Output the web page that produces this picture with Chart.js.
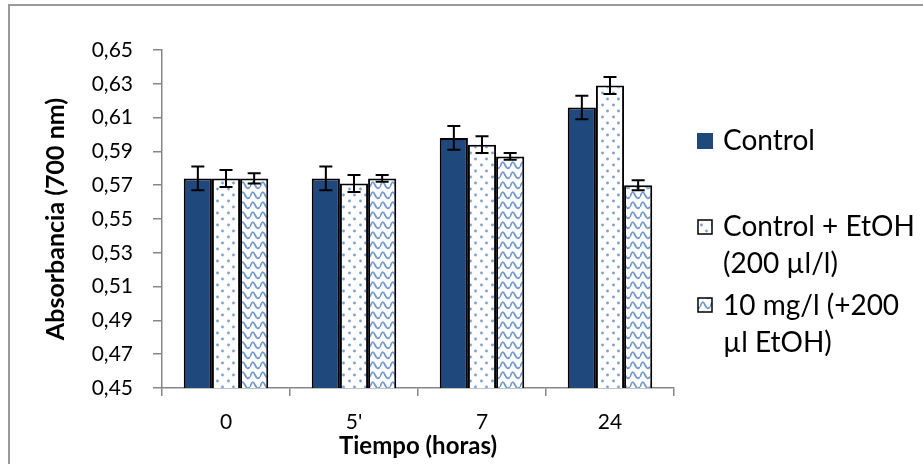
<!DOCTYPE html>
<html>
<head>
<meta charset="utf-8">
<script src="https://cdn.jsdelivr.net/npm/chart.js@4/dist/chart.umd.min.js"></script>
<style>
  html, body { margin: 0; padding: 0; background: #fff; }
  #box { width: 923px; height: 464px; }
</style>
</head>
<body>
<div id="box"><canvas id="graph" width="923" height="464"></canvas></div>
<script>
// données
const categories = ["0", "5'", "7", "24"];
const serieNoms = [["Control"], ["Control + EtOH", "(200 µl/l)"], ["10 mg/l (+200", "µl EtOH)"]];
const control = [0.574, 0.574, 0.598, 0.616];
const controlEtOH = [0.574, 0.571, 0.594, 0.629];
const dosis10 = [0.574, 0.574, 0.587, 0.570];
const errControl = [0.007, 0.007, 0.007, 0.007];
const errControlEtOH = [0.005, 0.005, 0.005, 0.005];
const errDosis10 = [0.003, 0.002, 0.002, 0.003];
const yTicks = [0.45, 0.47, 0.49, 0.51, 0.53, 0.55, 0.57, 0.59, 0.61, 0.63, 0.65];

const erreurs = [errControl, errControlEtOH, errDosis10];
const police = "Lato";

function motifPoints() {
    const c = document.createElement("canvas");
    c.width = 11; c.height = 12;
    const x = c.getContext("2d");
    x.fillStyle = "#fff";
    x.fillRect(0, 0, 11, 12);
    x.fillStyle = "#7a9fd6";
    x.beginPath(); x.arc(2.5, 3, 1.4, 0, Math.PI * 2); x.fill();
    x.beginPath(); x.arc(8.5, 9, 1.4, 0, Math.PI * 2); x.fill();
    return x.createPattern(c, "repeat");
}

function motifVagues() {
    const c = document.createElement("canvas");
    c.width = 10; c.height = 10;
    const x = c.getContext("2d");
    x.fillStyle = "#fff";
    x.fillRect(0, 0, 10, 10);
    x.strokeStyle = "#7099d4";
    x.lineWidth = 1.8;
    for (const dy of [-10, 0, 10]) {
        x.beginPath();
        x.moveTo(0, 7 + dy);
        x.bezierCurveTo(2, 1 + dy, 3, 1 + dy, 5, 5 + dy);
        x.bezierCurveTo(7, 9 + dy, 8, 9 + dy, 10, 7 + dy);
        x.stroke();
    }
    return x.createPattern(c, "repeat");
}

const points = motifPoints();
const vagues = motifVagues();
const remplissages = ["#1f497d", points, vagues];

// cadre gris et barres d'erreur
const cadre = {
    id: "cadre",
    beforeDraw(chart) {
        const ctx = chart.ctx;
        ctx.save();
        ctx.strokeStyle = "#9a9a9a";
        ctx.lineWidth = 2;
        ctx.beginPath();
        ctx.moveTo(9, 470);
        ctx.lineTo(9, 5);
        ctx.lineTo(930, 5);
        ctx.stroke();
        ctx.restore();
    }
};

const barresErreur = {
    id: "barresErreur",
    afterDatasetsDraw(chart) {
        const ctx = chart.ctx;
        const y = chart.scales.y;
        ctx.save();
        ctx.strokeStyle = "#000";
        ctx.lineWidth = 2;
        chart.data.datasets.forEach((ds, i) => {
            const meta = chart.getDatasetMeta(i);
            meta.data.forEach((bar, j) => {
                const v = ds.data[j];
                const e = erreurs[i][j];
                const haut = y.getPixelForValue(v + e);
                const bas = y.getPixelForValue(v - e);
                ctx.beginPath();
                ctx.moveTo(bar.x, haut); ctx.lineTo(bar.x, bas);
                ctx.moveTo(bar.x - 6.5, haut); ctx.lineTo(bar.x + 6.5, haut);
                ctx.moveTo(bar.x - 6.5, bas); ctx.lineTo(bar.x + 6.5, bas);
                ctx.stroke();
            });
        });
        ctx.restore();
    }
};

// légende dessinée à droite
const legende = {
    id: "legende",
    afterDraw(chart) {
        const ctx = chart.ctx;
        const lignesY = [[141], [227, 264], [306, 343]];
        const carresY = [133, 220, 298];
        ctx.save();
        ctx.font = "28px " + police;
        ctx.textBaseline = "middle";
        serieNoms.forEach((nom, i) => {
            const cy = carresY[i];
            if (i === 0) {
                ctx.fillStyle = remplissages[0];
                ctx.fillRect(697, cy, 16, 16);
            } else {
                ctx.fillStyle = remplissages[i];
                ctx.fillRect(698, cy, 14, 14);
                ctx.strokeStyle = "#000";
                ctx.lineWidth = 1.5;
                ctx.strokeRect(698, cy, 14, 14);
            }
            ctx.fillStyle = "#000";
            nom.forEach((t, k) => ctx.fillText(t, 723, lignesY[i][k]));
        });
        ctx.restore();
    }
};

const ctx = document.getElementById("graph").getContext("2d");

new Chart(ctx, {
    type: "bar",
    data: {
        labels: categories,
        datasets: [control, controlEtOH, dosis10].map((d, i) => ({
            label: serieNoms[i].join(" "),
            data: d,
            backgroundColor: remplissages[i],
            borderColor: "#000",
            borderWidth: 2,
            categoryPercentage: 0.66,
            barPercentage: 1
        }))
    },
    options: {
        responsive: false,
        animation: false,
        layout: { padding: { left: 0, top: 50, right: 249, bottom: 0 } },
        plugins: { legend: { display: false }, tooltip: { enabled: false } },
        scales: {
            x: {
                grid: { display: true, drawOnChartArea: false, offset: true, color: "#868686", tickLength: 8, lineWidth: 1.5 },
                border: { color: "#868686", width: 1.5 },
                ticks: { color: "#000", font: { family: police, size: 21 }, padding: 14 },
                title: { display: true, text: "Tiempo (horas)", color: "#000", font: { family: police, size: 24, weight: "bold" }, padding: { top: 0, bottom: 3 } },
                afterFit(s) { s.height = 76; }
            },
            y: {
                min: 0.45,
                max: 0.65,
                afterBuildTicks(s) { s.ticks = yTicks.map(v => ({ value: v })); },
                grid: { display: true, drawOnChartArea: false, color: "#868686", tickLength: 9, lineWidth: 1.5 },
                border: { color: "#868686", width: 1.5 },
                ticks: {
                    color: "#000",
                    font: { family: police, size: 21 },
                    padding: 20,
                    callback: v => v.toFixed(2).replace(".", ",")
                },
                title: { display: true, text: "Absorbancia (700 nm)", color: "#000", font: { family: police, size: 25, weight: "bold" }, padding: { top: 41, bottom: 0 } },
                afterFit(s) { s.width = 162; }
            }
        }
    },
    plugins: [cadre, barresErreur, legende]
});
</script>
</body>
</html>
